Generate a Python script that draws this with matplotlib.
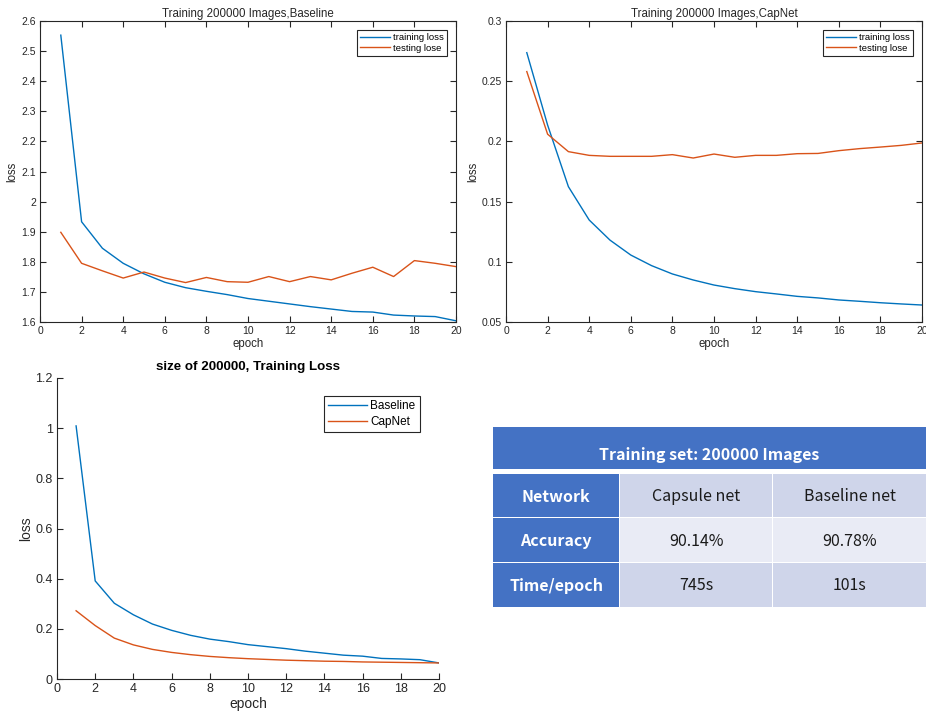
import matplotlib.pyplot as plt
from matplotlib.patches import Rectangle

plt.rcParams['font.family'] = ['Liberation Sans', 'DejaVu Sans']

epochs = list(range(1, 21))

# top-left: baseline network, 200000 images
base_train = [2.553, 1.933, 1.845, 1.795, 1.760, 1.732, 1.714, 1.702, 1.691, 1.678,
              1.669, 1.660, 1.651, 1.643, 1.635, 1.633, 1.623, 1.620, 1.618, 1.604]
base_test = [1.898, 1.795, 1.770, 1.746, 1.766, 1.746, 1.731, 1.748, 1.734, 1.732,
             1.751, 1.734, 1.751, 1.740, 1.762, 1.782, 1.751, 1.804, 1.795, 1.784]

# top-right: capsule network, 200000 images
cap_train = [0.2737, 0.2136, 0.1624, 0.1347, 0.1180, 0.1056, 0.0968, 0.0899, 0.0849, 0.0807,
             0.0777, 0.0752, 0.0733, 0.0713, 0.0700, 0.0683, 0.0672, 0.0660, 0.0650, 0.0641]
cap_test = [0.2580, 0.2060, 0.1915, 0.1884, 0.1876, 0.1876, 0.1876, 0.1890, 0.1862, 0.1895,
            0.1868, 0.1884, 0.1884, 0.1898, 0.1900, 0.1923, 0.1940, 0.1953, 0.1967, 0.1987]

# bottom: training loss comparison
cmp_baseline = [1.009, 0.391, 0.302, 0.256, 0.219, 0.194, 0.174, 0.159, 0.149, 0.137,
                0.129, 0.121, 0.111, 0.103, 0.095, 0.091, 0.082, 0.080, 0.077, 0.064]
cmp_capnet = [0.272, 0.213, 0.163, 0.136, 0.118, 0.106, 0.097, 0.090, 0.085, 0.081,
              0.078, 0.075, 0.073, 0.071, 0.070, 0.068, 0.067, 0.066, 0.065, 0.064]

# table
table_title = "Training set: 200000 Images"
row_labels = ["Network", "Accuracy", "Time/epoch"]
col_capsule = ["Capsule net", "90.14%", "745s"]
col_baseline = ["Baseline net", "90.78%", "101s"]

BLUE = '#0072BD'
ORANGE = '#D95319'
AXC = '#262626'

W, H = 926, 719
fig = plt.figure(figsize=(W / 100, H / 100), dpi=100)


def px_axes(x0, y0, x1, y1):
    return fig.add_axes([x0 / W, (H - y1) / H, (x1 - x0) / W, (y1 - y0) / H])


def style(ax, fs, box=True):
    for s in ax.spines.values():
        s.set_color(AXC)
        s.set_linewidth(0.8)
    if not box:
        ax.spines['top'].set_visible(False)
        ax.spines['right'].set_visible(False)
    ax.tick_params(direction='in', length=4, width=0.8, colors=AXC,
                   labelsize=fs, top=box, right=box, pad=3)


def small_panel(ax, train, test, title, ylim, yticks, ylabels):
    ax.plot(epochs, train, color=BLUE, lw=1.0, label='training loss')
    ax.plot(epochs, test, color=ORANGE, lw=1.0, label='testing lose')
    ax.set_xlim(0, 20)
    ax.set_xticks(range(0, 21, 2))
    ax.set_ylim(*ylim)
    ax.set_yticks(yticks)
    ax.set_yticklabels(ylabels)
    style(ax, 7.5)
    ax.set_title(title, fontsize=8.3, color=AXC, pad=3)
    ax.set_xlabel('epoch', fontsize=8.3, color=AXC, labelpad=1)
    ax.set_ylabel('loss', fontsize=8.3, color=AXC, labelpad=2)
    leg = ax.legend(loc='upper right', fontsize=6.8, fancybox=False, framealpha=1,
                    handlelength=3.2, handletextpad=0.3, borderpad=0.3,
                    labelspacing=0.15, borderaxespad=1.0)
    leg.get_frame().set_edgecolor(AXC)
    leg.get_frame().set_linewidth(0.8)


ax1 = px_axes(40, 21, 456, 322)
small_panel(ax1, base_train, base_test, 'Training 200000 Images,Baseline',
            (1.6, 2.6), [1.6 + 0.1 * i for i in range(11)],
            ['1.6', '1.7', '1.8', '1.9', '2', '2.1', '2.2', '2.3', '2.4', '2.5', '2.6'])

ax2 = px_axes(506, 21, 922, 322)
small_panel(ax2, cap_train, cap_test, 'Training 200000 Images,CapNet',
            (0.05, 0.3), [0.05, 0.1, 0.15, 0.2, 0.25, 0.3],
            ['0.05', '0.1', '0.15', '0.2', '0.25', '0.3'])

ax3 = px_axes(57, 378, 439, 679)
ax3.plot(epochs, cmp_baseline, color=BLUE, lw=1.0, label='Baseline')
ax3.plot(epochs, cmp_capnet, color=ORANGE, lw=1.0, label='CapNet')
ax3.set_xlim(0, 20)
ax3.set_xticks(range(0, 21, 2))
ax3.set_ylim(0, 1.2)
ax3.set_yticks([0, 0.2, 0.4, 0.6, 0.8, 1.0, 1.2])
ax3.set_yticklabels(['0', '0.2', '0.4', '0.6', '0.8', '1', '1.2'])
style(ax3, 9, box=False)
ax3.set_title('size of 200000, Training Loss', fontsize=9.6, fontweight='bold',
              color='black', pad=6)
ax3.set_xlabel('epoch', fontsize=10, color=AXC, labelpad=1)
ax3.set_ylabel('loss', fontsize=10, color=AXC, labelpad=2)
leg = ax3.legend(loc='upper right', fontsize=8.5, fancybox=False, framealpha=1,
                 handlelength=3.3, handletextpad=0.3, borderpad=0.35,
                 labelspacing=0.35, bbox_to_anchor=(0.965, 0.96))
leg.get_frame().set_edgecolor(AXC)
leg.get_frame().set_linewidth(0.8)

# table drawn in pixel space
tx0, ty0, tx1, ty1 = 493, 427, 926, 607
tab = px_axes(tx0, ty0, tx1, ty1)
tab.set_xlim(0, tx1 - tx0)
tab.set_ylim(ty1 - ty0, 0)
tab.axis('off')

HEAD = '#4472C4'
LIGHT1 = '#CFD5EA'
LIGHT2 = '#E9EBF5'
tab.add_patch(Rectangle((0, 0), 433, 42, facecolor=HEAD, edgecolor='none'))
tab.text(216, 28, table_title, color='white', fontsize=11.5, fontweight='bold',
         ha='center', va='center', family=['Noto Sans CJK SC', 'DejaVu Sans'])

cols = [(0, 126), (127, 279), (280, 433)]
rows = [(47, 90), (91, 135), (136, 180)]
for r, (ry0, ry1) in enumerate(rows):
    shade = LIGHT2 if r == 1 else LIGHT1
    cells = [row_labels[r], col_capsule[r], col_baseline[r]]
    for c, (cx0, cx1) in enumerate(cols):
        fc = HEAD if c == 0 else shade
        tab.add_patch(Rectangle((cx0, ry0), cx1 - cx0, ry1 - ry0,
                                facecolor=fc, edgecolor='none'))
        tab.text((cx0 + cx1) / 2, (ry0 + ry1) / 2 + 1, cells[c],
                 color='white' if c == 0 else '#1a1a1a',
                 fontweight='bold' if c == 0 else 'normal',
                 fontsize=11.5, ha='center', va='center',
                 family=['Noto Sans CJK SC', 'DejaVu Sans'])

fig.savefig('out.png', dpi=100, facecolor='white')
